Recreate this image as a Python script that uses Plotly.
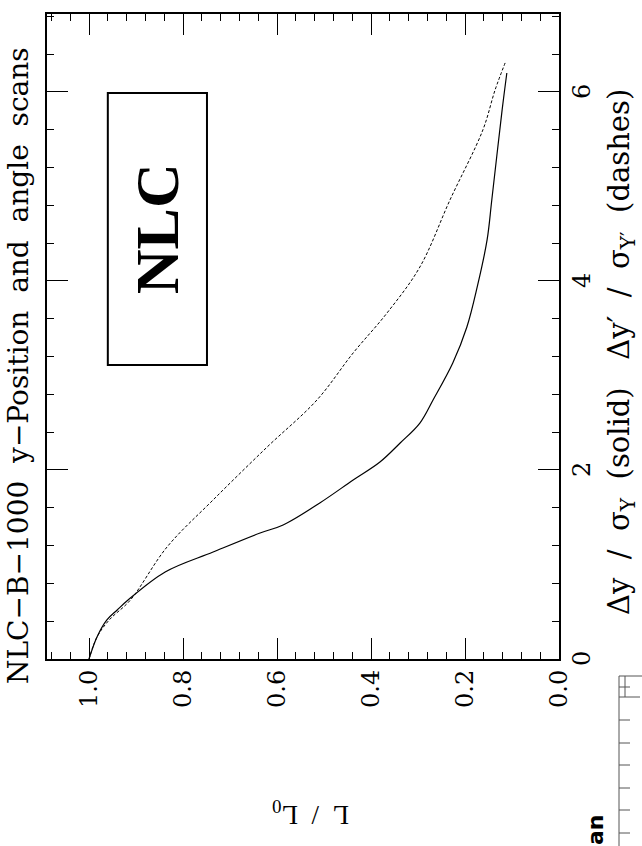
import plotly.graph_objects as go

# ---- data ----
# position scan (solid): d = Δy/σ_Y, L/L0
pos_d = [0.0, 0.233, 0.413, 0.519, 0.624, 0.921, 1.132, 1.333, 1.418, 1.651, 1.894,
         2.085, 2.286, 2.497, 2.741, 3.132, 3.513, 3.937, 4.434, 4.857, 5.810, 6.201]
pos_L = [1.0, 0.983, 0.962, 0.940, 0.917, 0.838, 0.736, 0.636, 0.587, 0.509, 0.438,
         0.381, 0.338, 0.296, 0.268, 0.226, 0.196, 0.174, 0.153, 0.143, 0.121, 0.111]
# angle scan (dashes): d = Δy'/σ_Y', L/L0
ang_d = [0.0, 0.233, 0.413, 0.624, 1.185, 1.683, 2.243, 2.741, 3.238, 3.661, 4.148,
         4.857, 5.598, 6.021, 6.328]
ang_L = [1.0, 0.983, 0.957, 0.912, 0.834, 0.736, 0.621, 0.515, 0.438, 0.366, 0.296,
         0.232, 0.162, 0.136, 0.113]

L_ticks = [0.0, 0.2, 0.4, 0.6, 0.8, 1.0]
L_tick_labels = ["0.0", "0.2", "0.4", "0.6", "0.8", "1.0"]
d_ticks = [0, 2, 4, 6]
d_tick_labels = ["0", "2", "4", "6"]

SP = "&nbsp;"
title_text = ("NLC\u2212B\u22121000" + SP * 2 + "y\u2212Position" + SP * 2 + "and" + SP * 2
              + "angle" + SP * 2 + "scans")
axis_text = ("\u0394y" + SP * 2 + "/" + SP * 2 + "\u03c3<sub>Y</sub>" + SP * 2 + "(solid)" + SP * 3
             + "\u0394y\u2032" + SP * 2 + "/" + SP * 2 + "\u03c3<sub>Y\u2032</sub>" + SP * 2 + "(dashes)")
lum_text = "L" + SP * 2 + "/" + SP * 2 + "L<sub>0</sub>"
box_label = "<b>NLC</b>"

W, H = 642, 846
ML, MR, MT, MB = 47, 83, 14, 187
PW, PH = W - ML - MR, H - MT - MB


def px(x):
    return (x - ML) / PW


def py(y):
    return (H - MB - y) / PH


SERIF = "DejaVu Serif"
SERIF2 = "Liberation Serif"

fig = go.Figure()
fig.add_trace(go.Scatter(x=pos_L, y=pos_d, mode="lines",
                         line=dict(color="black", width=1.2), line_shape="spline",
                         showlegend=False, hoverinfo="skip"))
fig.add_trace(go.Scatter(x=ang_L, y=ang_d, mode="lines",
                         line=dict(color="black", width=1, dash="3px,2px"), line_shape="spline",
                         showlegend=False, hoverinfo="skip"))

axis_common = dict(showgrid=False, zeroline=False, showline=True, linecolor="black",
                   linewidth=1.5, mirror="ticks", ticks="inside", ticklen=21,
                   tickwidth=1, tickcolor="black", showticklabels=False)

fig.update_xaxes(range=[1.0894, 0], tickvals=L_ticks,
                 minor=dict(dtick=0.04, tick0=0, ticks="inside", ticklen=7,
                            tickwidth=1, tickcolor="black", showgrid=False),
                 **axis_common)
fig.update_yaxes(range=[0, 6.825], tickvals=d_ticks, side="right",
                 minor=dict(dtick=0.4, tick0=0, ticks="inside", ticklen=7,
                            tickwidth=1, tickcolor="black", showgrid=False),
                 **axis_common)

shapes = [
    dict(type="rect", xref="x", yref="y", x0=0.96, x1=0.749, y0=3.111, y1=5.99,
         line=dict(color="black", width=2), fillcolor="rgba(0,0,0,0)"),
]
# cropped neighbouring frame at bottom-right corner
art = [(619, 676, 619, 846), (619, 676, 642, 676), (625, 676, 625, 697),
       (619, 687, 630, 687), (619, 697, 640, 697)]
for yy in [720, 743, 765, 788, 810, 833]:
    art.append((619, yy, 630, yy))
for (x0, y0, x1, y1) in art:
    shapes.append(dict(type="line", xref="paper", yref="paper",
                       x0=px(x0), y0=py(y0), x1=px(x1), y1=py(y1),
                       line=dict(color="#555555", width=1)))

annotations = [
    dict(text=title_text, xref="paper", yref="paper", x=px(18), y=py(366),
         textangle=-90, showarrow=False, xanchor="center", yanchor="middle",
         font=dict(family=SERIF, size=28, color="black")),
    dict(text=axis_text, xref="paper", yref="paper", x=px(621), y=py(352),
         textangle=-90, showarrow=False, xanchor="center", yanchor="middle",
         font=dict(family=SERIF, size=29, color="black")),
    dict(text=lum_text, xref="paper", yref="paper", x=px(311), y=py(813),
         textangle=180, showarrow=False, xanchor="center", yanchor="middle",
         font=dict(family=SERIF2, size=27, color="black")),
    dict(text=box_label, xref="x", yref="y", x=0.855, y=4.55,
         textangle=-90, showarrow=False, xanchor="center", yanchor="middle",
         font=dict(family=SERIF2, size=62, color="black")),
    dict(text="<b>an</b>", xref="paper", yref="paper", x=px(595), y=py(830),
         textangle=-90, showarrow=False, xanchor="center", yanchor="middle",
         font=dict(family="DejaVu Sans", size=22, color="black")),
]
for v, t in zip(L_ticks, L_tick_labels):
    annotations.append(dict(text=t, xref="x", yref="paper", x=v, y=py(668),
                            textangle=-90, showarrow=False, xanchor="center", yanchor="top",
                            font=dict(family=SERIF, size=24, color="black")))
for v, t in zip(d_ticks, d_tick_labels):
    annotations.append(dict(text=t, xref="paper", yref="y", x=px(566), y=v,
                            textangle=-90, showarrow=False, xanchor="left", yanchor="middle",
                            font=dict(family=SERIF, size=24, color="black")))

fig.update_layout(width=W, height=H, margin=dict(l=ML, r=MR, t=MT, b=MB),
                  paper_bgcolor="white", plot_bgcolor="white",
                  shapes=shapes, annotations=annotations, showlegend=False)

fig.write_html("out.html")
